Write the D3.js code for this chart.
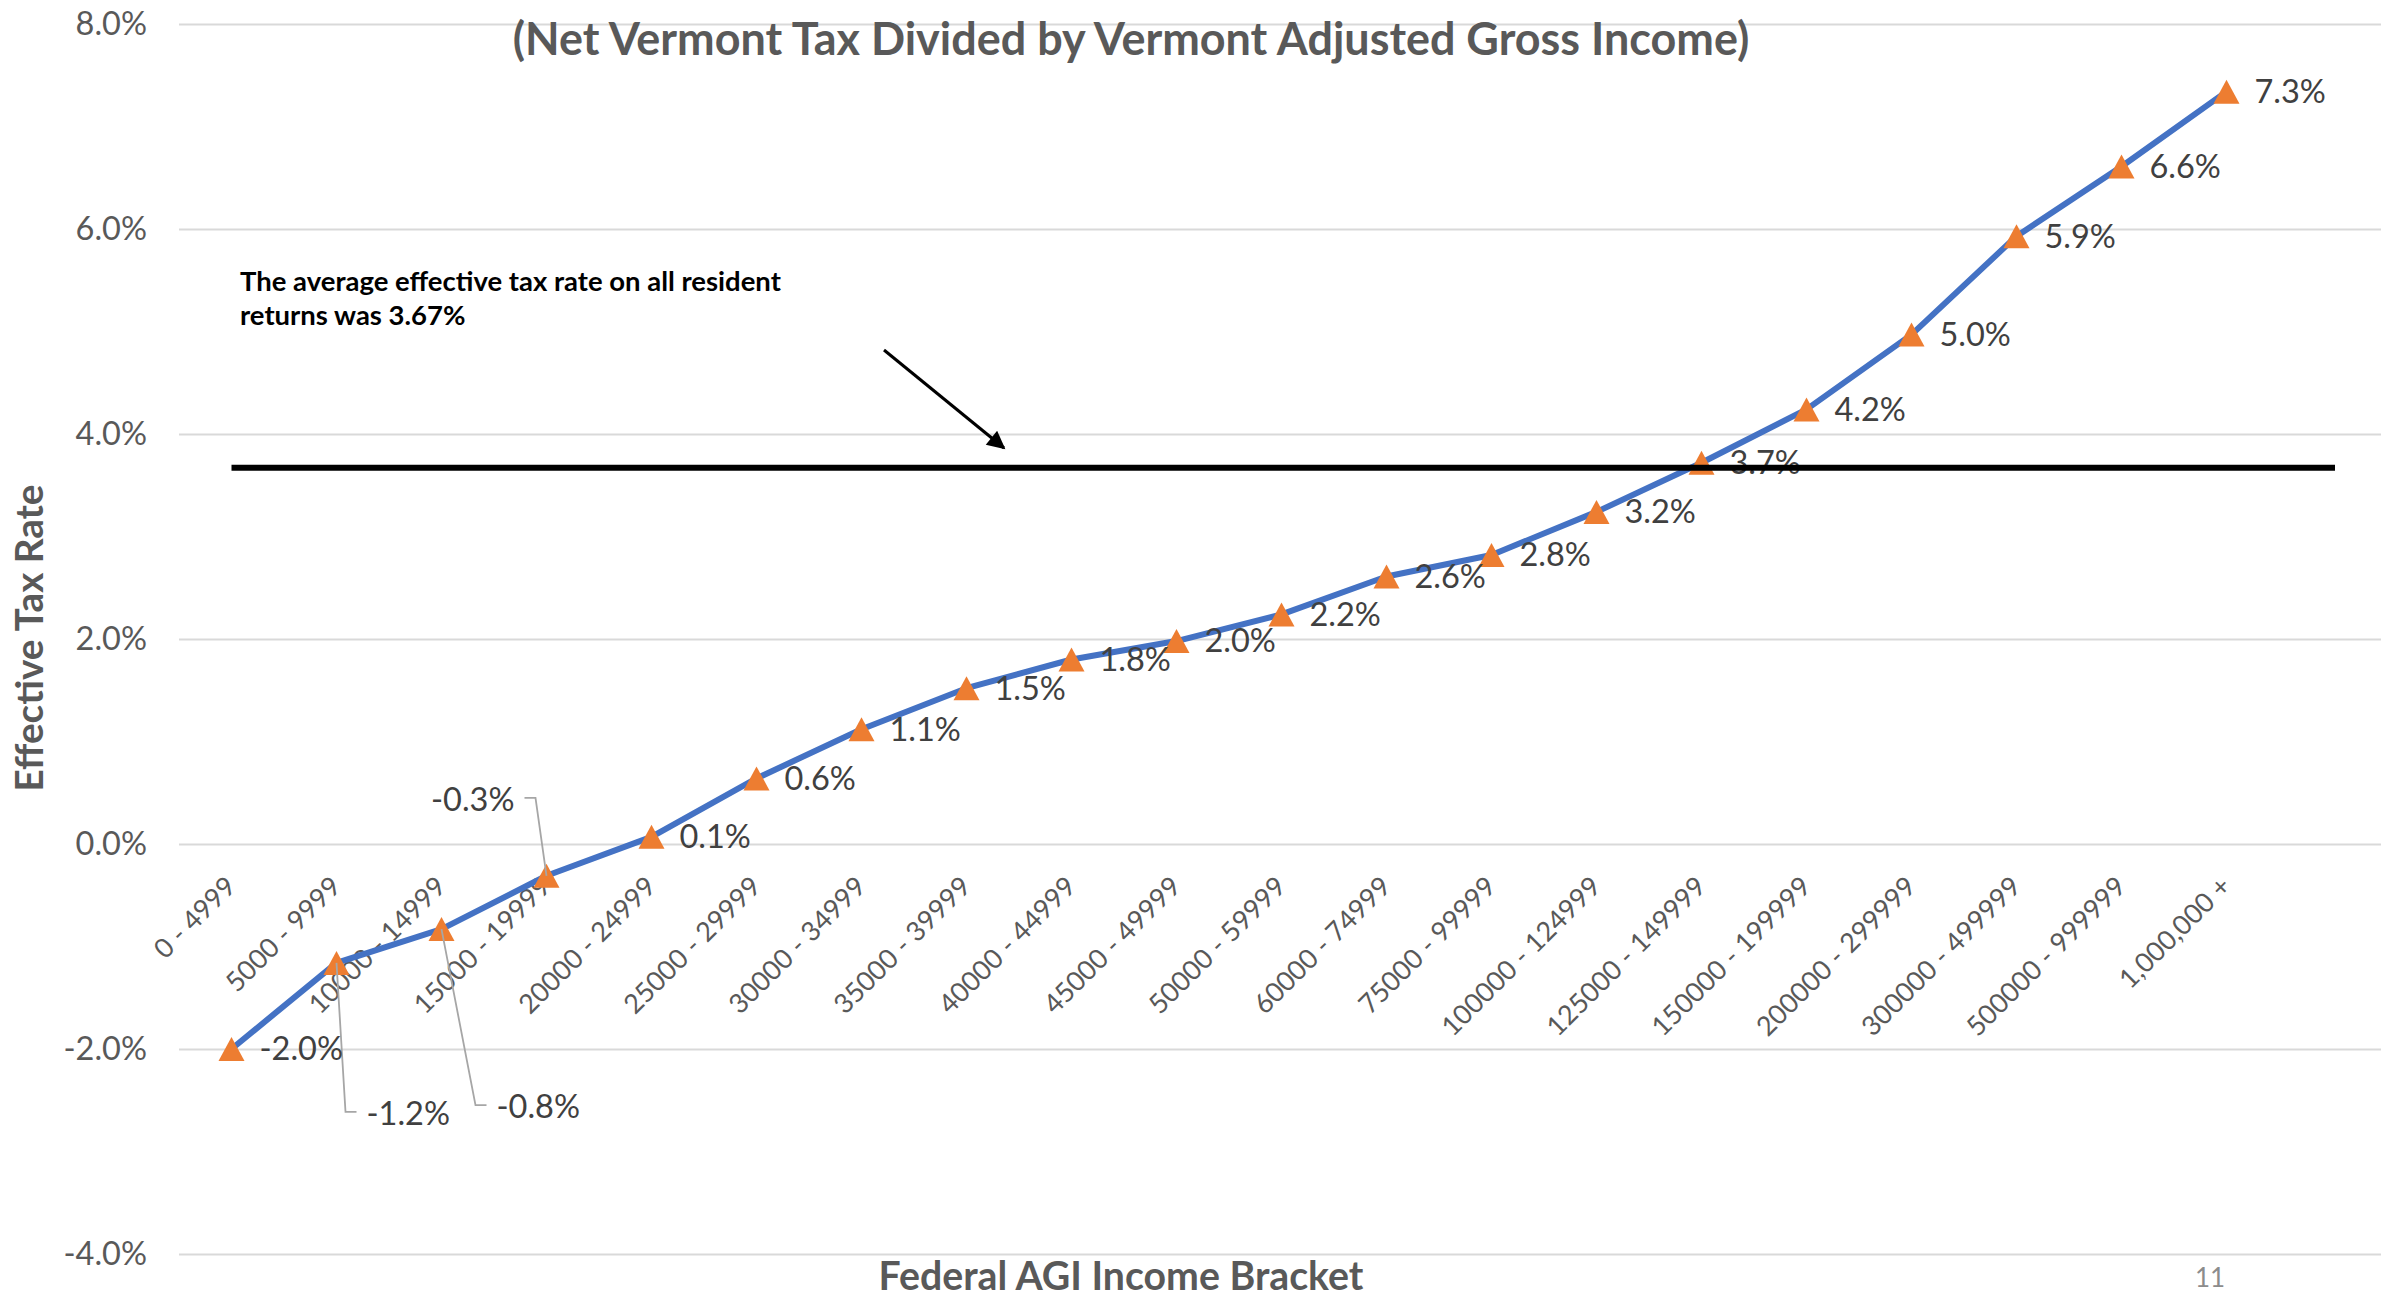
<!DOCTYPE html>
<html>
<head>
<meta charset="utf-8">
<script src="https://cdn.jsdelivr.net/npm/d3@7"></script>
<style>
  html, body { margin: 0; padding: 0; background: #fff; }
  svg { display: block; }
</style>
</head>
<body>
<div class="dataviz"><svg></svg></div>
<script>
const brackets = ["0 - 4999", "5000 - 9999", "10000 - 14999", "15000 - 19999", "20000 - 24999",
    "25000 - 29999", "30000 - 34999", "35000 - 39999", "40000 - 44999", "45000 - 49999",
    "50000 - 59999", "60000 - 74999", "75000 - 99999", "100000 - 124999", "125000 - 149999",
    "150000 - 199999", "200000 - 299999", "300000 - 499999", "500000 - 999999", "1,000,000 +"]
const effectiveRate = [-2.0, -1.16, -0.83, -0.31, 0.07, 0.64, 1.12, 1.52, 1.80, 1.98,
    2.24, 2.61, 2.82, 3.24, 3.72, 4.24, 4.97, 5.93, 6.61, 7.34]
const yTicks = [-4, -2, 0, 2, 4, 6, 8]
const averageRate = 3.67

const title = "(Net Vermont Tax Divided by Vermont Adjusted Gross Income)"
const yTitle = "Effective Tax Rate"
const xTitle = "Federal AGI Income Bracket"
const note = ["The average effective tax rate on all resident", "returns was 3.67%"]
const pageNumber = "11"

const width = 2381
const height = 1297
const font = "Lato, 'Open Sans', sans-serif"

// labels pulled away from the line with a leader (index -> offset from point)
const callouts = {
    1: {dx: 30, dy: 151, anchor: "start"},
    2: {dx: 55, dy: 178, anchor: "start"},
    3: {dx: -32, dy: -76, anchor: "end"}
}

const data = brackets.map((b, i) => ({bracket: b, value: effectiveRate[i], i}))

// plain hyphen for negatives, like the original
const pct = d3.formatLocale({decimal: ".", thousands: ",", grouping: [3], currency: ["", ""], minus: "-"})
    .format(".1f")

const svg = d3.select(".dataviz > svg")
    .attr("width", width).attr("height", height)
    .attr("font-family", font)

const x = d3.scaleBand()
    .domain(brackets)
    .range([179, 2279])

const y = d3.scaleLinear()
    .domain([-4, 8])
    .range([1254, 24])

const cx = d => x(d.bracket) + x.bandwidth() / 2

// fit a text to a measured width by changing its font size
const fit = (sel, w) => {
    const fs = parseFloat(sel.attr("font-size"))
    const len = sel.node().getComputedTextLength()
    sel.attr("font-size", fs * w / len)
    return fs * w / len
}

// y axis with gridlines
svg.append("g")
    .attr("transform", "translate(179,0)")
    .call(d3.axisLeft(y).tickValues(yTicks)
        .tickFormat(d => pct(d) + "%")
        .tickSizeInner(-(width - 179)).tickSizeOuter(0).tickPadding(32))
    .call(g => g.select(".domain").remove())
    .call(g => g.selectAll(".tick line").attr("stroke", "#D9D9D9").attr("stroke-width", 2))
    .call(g => g.selectAll(".tick text")
        .attr("font-family", font).attr("font-size", 32.5).attr("fill", "#595959"))

// x axis, rotated labels
svg.append("g")
    .attr("transform", "translate(0,888)")
    .call(d3.axisBottom(x).tickSize(0))
    .call(g => g.select(".domain").remove())
    .call(g => g.selectAll(".tick text")
        .attr("font-family", font).attr("font-size", 27).attr("fill", "#595959")
        .attr("text-anchor", "end")
        .attr("x", 0).attr("y", 0).attr("dy", 0)
        .attr("transform", "translate(6,0) rotate(-45)"))

// line
svg.append("path")
    .datum(data)
    .attr("fill", "none")
    .attr("stroke", "#4472C4")
    .attr("stroke-width", 6)
    .attr("stroke-linejoin", "round")
    .attr("d", d3.line().x(cx).y(d => y(d.value)))

// triangle markers
const triangle = {
    draw(ctx) {
        ctx.moveTo(0, -12)
        ctx.lineTo(13, 12)
        ctx.lineTo(-13, 12)
        ctx.closePath()
    }
}
svg.append("g")
    .selectAll("path")
    .data(data)
    .join("path")
    .attr("transform", d => `translate(${cx(d)},${y(d.value)})`)
    .attr("d", d3.symbol(triangle))
    .attr("fill", "#ED7D31")

// data labels
const labelPos = d => {
    const c = callouts[d.i]
    if (c) return {x: cx(d) + c.dx, y: y(d.value) + c.dy, anchor: c.anchor}
    return {x: cx(d) + 28, y: y(d.value), anchor: "start"}
}

svg.append("g")
    .selectAll("path")
    .data(data.filter(d => callouts[d.i]))
    .join("path")
    .attr("fill", "none")
    .attr("stroke", "#A6A6A6")
    .attr("stroke-width", 1.8)
    .attr("d", d => {
        const p = labelPos(d)
        const s = p.anchor === "start" ? 1 : -1
        return d3.line()([[cx(d), y(d.value)], [p.x - 21 * s, p.y - 2], [p.x - 10 * s, p.y - 2]])
    })

svg.append("g")
    .selectAll("text")
    .data(data)
    .join("text")
    .attr("x", d => labelPos(d).x)
    .attr("y", d => labelPos(d).y)
    .attr("dy", "0.35em")
    .attr("text-anchor", d => labelPos(d).anchor)
    .attr("font-size", 32.5)
    .attr("fill", "#404040")
    .text(d => pct(d.value) + "%")

// titles
const t = svg.append("text")
    .attr("x", 1131).attr("y", 55)
    .attr("text-anchor", "middle")
    .attr("font-weight", "bold").attr("font-size", 40)
    .attr("fill", "#595959")
    .text(title)
fit(t, 1237)

const yt = svg.append("text")
    .attr("transform", "translate(43,638) rotate(-90)")
    .attr("text-anchor", "middle")
    .attr("font-weight", "bold").attr("font-size", 36)
    .attr("fill", "#595959")
    .text(yTitle)
fit(yt, 307)

const xt = svg.append("text")
    .attr("x", 1121).attr("y", 1290)
    .attr("text-anchor", "middle")
    .attr("font-weight", "bold").attr("font-size", 36)
    .attr("fill", "#595959")
    .text(xTitle)
fit(xt, 485)

svg.append("text")
    .attr("x", 2210).attr("y", 1287)
    .attr("text-anchor", "middle")
    .attr("font-size", 26)
    .attr("fill", "#8C8C8C")
    .text(pageNumber)

// annotation
const n1 = svg.append("text")
    .attr("x", 240).attr("y", 291)
    .attr("font-weight", "bold").attr("font-size", 26)
    .attr("fill", "#000")
    .text(note[0])
const noteSize = fit(n1, 541)
svg.append("text")
    .attr("x", 240).attr("y", 325)
    .attr("font-weight", "bold").attr("font-size", noteSize)
    .attr("fill", "#000")
    .text(note[1])

svg.append("defs").append("marker")
    .attr("id", "head")
    .attr("viewBox", "0 0 10 10")
    .attr("refX", 9).attr("refY", 5)
    .attr("markerWidth", 7).attr("markerHeight", 6)
    .attr("markerUnits", "strokeWidth")
    .attr("orient", "auto")
    .append("path")
    .attr("d", "M0,0L10,5L0,10z")
    .attr("fill", "#000")

svg.append("line")
    .attr("x1", 884).attr("y1", 350)
    .attr("x2", 1004).attr("y2", 448)
    .attr("stroke", "#000").attr("stroke-width", 3)
    .attr("marker-end", "url(#head)")

// average rate line, drawn on top
svg.append("line")
    .attr("x1", cx(data[0])).attr("x2", 2335)
    .attr("y1", y(averageRate)).attr("y2", y(averageRate))
    .attr("stroke", "#000").attr("stroke-width", 6)
</script>
</body>
</html>
